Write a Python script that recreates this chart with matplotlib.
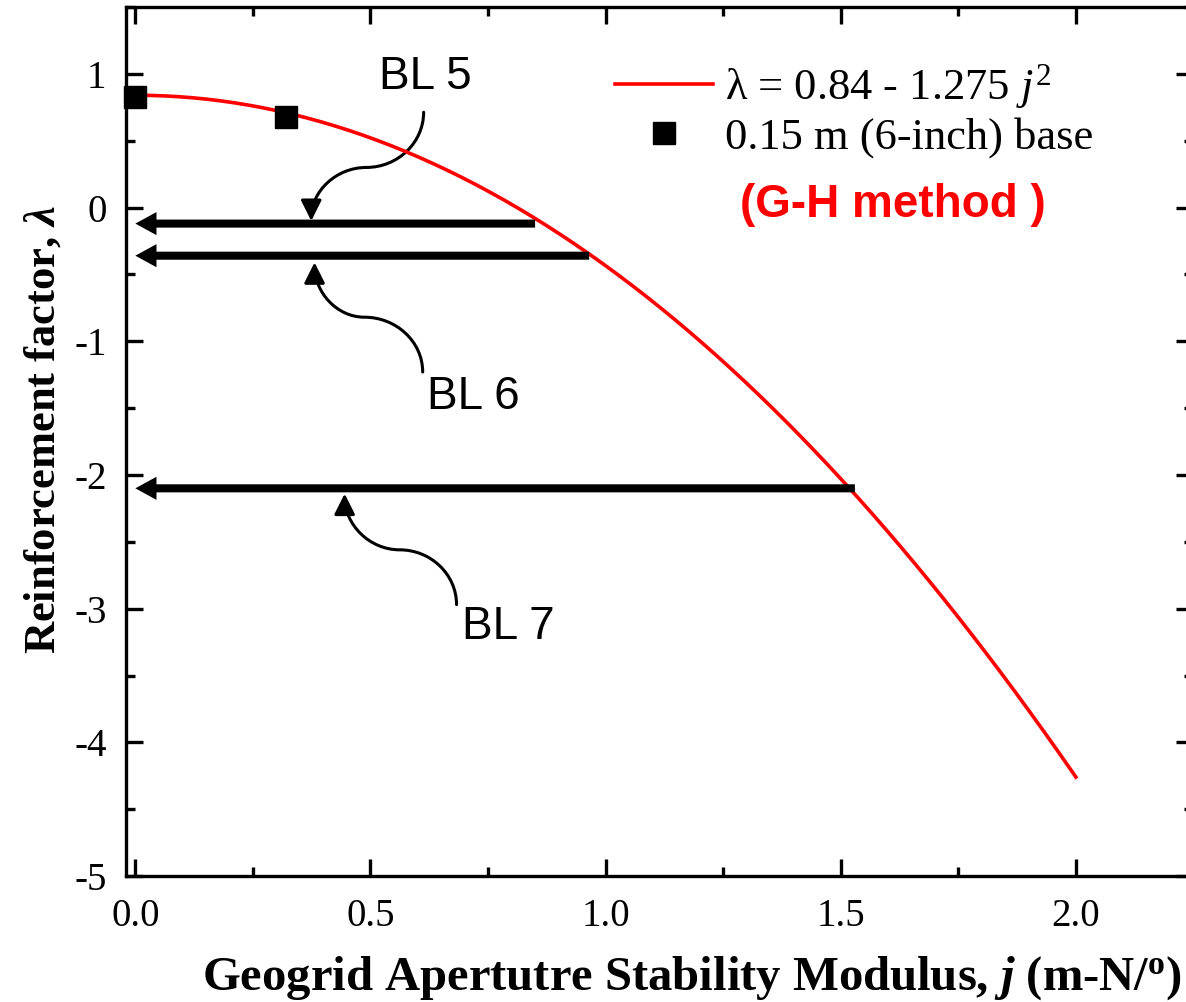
import numpy as np
import matplotlib
matplotlib.use("Agg")
import matplotlib.pyplot as plt
from matplotlib.path import Path
from matplotlib.patches import FancyArrowPatch

# fit: lambda = a - b * j^2
fit_a = 0.84
fit_b = 1.275
fit_j = np.linspace(0.0, 2.0, 200)

# measured points, 0.15 m base
base_j = [0.0, 0.32]
base_lambda = [0.83, 0.68]

# BL sections: reinforcement factor and where it meets the fit
bl_names = ["BL 5", "BL 6", "BL 7"]
bl_lambda = [-0.12, -0.36, -2.10]
bl_j = [0.85, 0.965, 1.53]

plt.rcParams['font.family'] = ['Liberation Serif', 'DejaVu Serif']
plt.rcParams['axes.unicode_minus'] = False
plt.rcParams['mathtext.fontset'] = 'custom'
plt.rcParams['mathtext.rm'] = 'Liberation Serif'
plt.rcParams['mathtext.it'] = 'Liberation Serif:italic'
plt.rcParams['mathtext.bf'] = 'Liberation Serif:bold'
plt.rcParams['mathtext.bfit'] = 'Liberation Serif:italic:bold'

fig = plt.figure(figsize=(11.86, 10.02), dpi=100)
ax = fig.add_axes([0.1062, 0.1257, 0.9001, 0.8673])

fit_lambda = fit_a - fit_b * fit_j ** 2
ax.plot(fit_j, fit_lambda, color='red', lw=2.6,
        label=r'λ = 0.84 - 1.275 $\mathit{j}^{2}$')
ax.plot(base_j, base_lambda, 's', color='black', ms=16, clip_on=False,
        label='0.15 m (6-inch) base')

# horizontal arrows from the curve back to the axis
for lam, jj in zip(bl_lambda, bl_j):
    ax.annotate('', xy=(0.0, lam), xytext=(jj, lam),
                arrowprops=dict(arrowstyle='simple,head_length=0.76,head_width=0.83,tail_width=0.29',
                                lw=0, color='black', shrinkA=0, shrinkB=0,
                                mutation_scale=20))


def s_curve(start, mid, tip, k=0.55):
    (x0, y0), (x1, y1), (x2, y2) = start, mid, tip
    verts = [(x0, y0), (x0, y0 + k * (y1 - y0)), (x1 + k * (x0 - x1), y1), (x1, y1),
             (x1 + k * (x2 - x1), y1), (x2, y2 + k * (y1 - y2)), (x2, y2)]
    codes = [Path.MOVETO] + [Path.CURVE4] * 6
    return Path(verts, codes)


# callouts: (text pos, curve start, curve middle, arrow tip)
callouts = [
    ((0.519, 0.98), (0.613, 0.713), (0.491, 0.30), (0.374, -0.10)),
    ((0.621, -1.42), (0.611, -1.23), (0.487, -0.82), (0.381, -0.41)),
    ((0.694, -3.14), (0.683, -2.97), (0.562, -2.56), (0.445, -2.14)),
]
for name, (tpos, p0, p1, p2) in zip(bl_names, callouts):
    ax.text(tpos[0], tpos[1], name, fontsize=33, family='Liberation Sans',
            ha='left', va='center')
    arr = FancyArrowPatch(path=s_curve(p0, p1, p2),
                          arrowstyle='-|>,head_length=0.7,head_width=0.35',
                          mutation_scale=18, lw=2.2, color='black')
    ax.add_patch(arr)

ax.text(0.718, 0.772, '(G-H method )', transform=ax.transAxes, color='red',
        fontsize=33, fontweight='bold', family='Liberation Sans',
        ha='center', va='center')

ax.legend(loc='upper left', bbox_to_anchor=(0.458, 0.936), frameon=False,
          fontsize=32, handlelength=2.2, handletextpad=0.28, labelspacing=0.12,
          borderpad=0, borderaxespad=0, markerscale=1.0, numpoints=1)

ax.set_xlim(-0.02, 2.25)
ax.set_ylim(-5, 1.5)
ax.set_xticks([0.0, 0.5, 1.0, 1.5, 2.0])
ax.set_xticklabels(['0.0', '0.5', '1.0', '1.5', '2.0'])
ax.set_xticks(np.arange(0, 2.3, 0.25), minor=True)
ax.set_yticks([-5, -4, -3, -2, -1, 0, 1])
ax.set_yticks(np.arange(-5, 1.6, 0.5), minor=True)

ax.tick_params(which='both', direction='in', top=True, right=True, width=2.4,
               labelsize=28)
ax.tick_params(which='major', length=12)
ax.tick_params(which='minor', length=6.5)
ax.tick_params(axis='y', pad=14)
ax.tick_params(axis='x', pad=16)
for s in ax.spines.values():
    s.set_linewidth(2.4)

ax.set_xlabel(r'Geogrid Apertutre Stability Modulus, $\mathbfit{j}$ (m-N/$^{\mathbf{o}}$)',
              fontsize=35, fontweight='bold')
ax.xaxis.set_label_coords(0.530, -0.090)
ax.set_ylabel(r'Reinforcement factor, $\mathbfit{\lambda}$', fontsize=32,
              fontweight='bold')
ax.yaxis.set_label_coords(-0.058, 0.514)

fig.savefig('out.png', dpi=100)
